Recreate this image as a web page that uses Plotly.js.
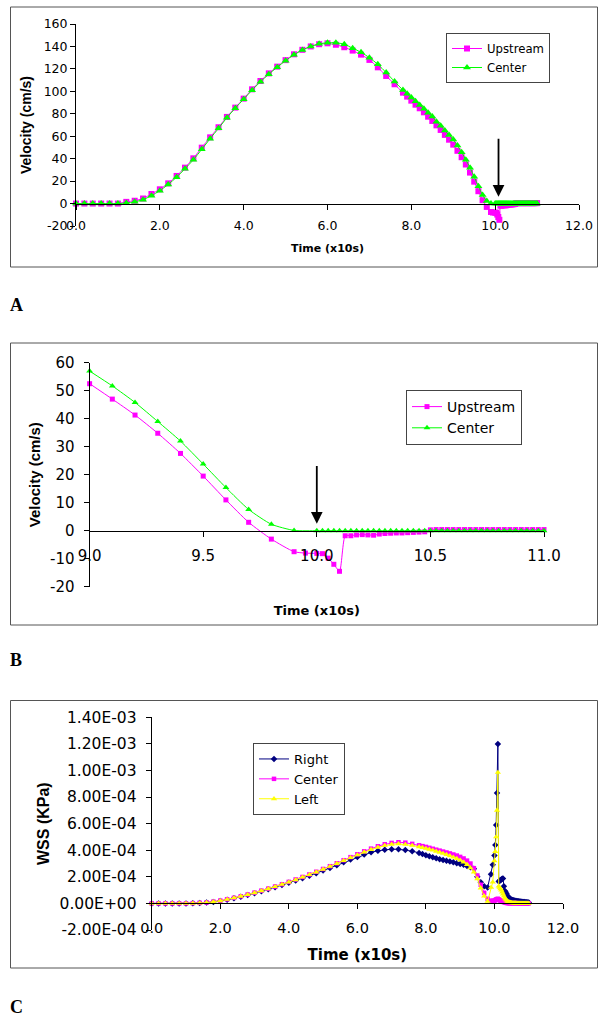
<!DOCTYPE html>
<html><head><meta charset="utf-8">
<script src="https://cdn.plot.ly/plotly-3.0.1.min.js"></script>
<style>html,body{margin:0;padding:0;background:#fff}#chart{width:605px;height:1020px}</style>
</head><body><div id="chart"></div>
<script>
// ---- data (time in x10 s) ----
const time = [
  0,0.2,0.4,0.6,0.8,1.0,1.2,1.4,1.6,1.8,
  2.0,2.2,2.4,2.6,2.8,3.0,3.2,3.4,3.6,3.8,
  4.0,4.2,4.4,4.6,4.8,5.0,5.2,5.4,5.6,5.8,
  6.0,6.2,6.4,6.6,6.8,7.0,7.2,7.4,7.6,7.8,
  7.9,8.0,8.1,8.2,8.3,8.4,8.5,8.6,8.7,8.8,
  8.9,9.0,9.1,9.2,9.3,9.4,9.5,9.6,9.7,9.8,
  9.9,9.95,
  10.0,10.025,10.05,10.075,10.1,10.125,10.15,10.175,10.2,10.225,
  10.25,10.275,10.3,10.325,10.35,10.375,10.4,10.425,10.45,10.475,
  10.5,10.525,10.55,10.575,10.6,10.625,10.65,10.675,10.7,10.725,
  10.75,10.775,10.8,10.825,10.85,10.875,10.9,10.925,10.95,10.975,
  11.0
];
// velocity (cm/s)
const velUpstream = [
  0,0,0,0,0,0,1.5,2.5,4.5,8.5,
  12.7,18,24.6,32,40.3,49.8,59,68,77.2,85.5,
  93.5,101.8,109.2,116,122,127.8,133,137,140,142,
  142.8,141.5,139.3,136.3,132.7,128,121.4,113.7,106.3,98.8,
  95.3,91.7,88.1,84.9,81.3,77.4,73.6,69.7,65.6,61.2,
  56.9,52.5,47,41.3,34.8,27.6,19.5,11,3,-3,
  -7.5,-8.0,
  -8.1,-8.2,-9.8,-12,-14.5,-1.8,-1.8,-1.5,-1.4,-1.5,
  -1.6,-1.2,-1.0,-0.9,-0.8,-0.8,-0.7,-0.6,-0.5,-0.4,
  0.3,0.4,0.4,0.4,0.4,0.4,0.4,0.4,0.4,0.4,
  0.4,0.4,0.4,0.4,0.4,0.4,0.4,0.4,0.4,0.4,
  0.4
];
const velCenter = [
  0,0,0,0,0,0,0.5,1.5,3.5,7,
  11.5,17,23.5,31,39,48.3,57.8,67,76.5,85,
  93,101,108.5,115.3,121.5,127.3,132.5,136.8,140,142.3,
  143.3,143.3,142,138.4,134.8,130,124.1,116.7,108.7,101.2,
  97.8,94.4,91.2,87.9,84.5,81,77.5,73,69.3,65,
  61,57,51.7,45.8,39,32,23.8,15.4,7.6,2.3,
  0.1,null,
  0,0,0,0,0,0,0,0,0,0,
  0,0,0,0,0,0,0,0,0,0,
  0,0,0,0,0,0,0,0,0,0,
  0,0,0,0,0,0,0,0,0,0,
  0
];
// wall shear stress (KPa)
const wssRight = [
  0,0,0,0,0,0,0.01e-4,0.03e-4,0.06e-4,0.11e-4,
  0.18e-4,0.27e-4,0.38e-4,0.5e-4,0.63e-4,0.77e-4,0.91e-4,1.06e-4,1.22e-4,1.38e-4,
  1.55e-4,1.72e-4,1.9e-4,2.08e-4,2.27e-4,2.47e-4,2.67e-4,2.88e-4,3.09e-4,3.3e-4,
  3.5e-4,3.68e-4,3.84e-4,3.96e-4,4.04e-4,4.08e-4,4.07e-4,4.02e-4,3.93e-4,3.8e-4,
  3.72e-4,3.62e-4,3.55e-4,3.48e-4,3.4e-4,3.33e-4,3.27e-4,3.21e-4,3.15e-4,3.09e-4,
  3.03e-4,2.97e-4,2.9e-4,2.82e-4,2.72e-4,2.6e-4,2.0e-4,1.6e-4,1.3e-4,1.2e-4,
  2.2e-4,2.9e-4,
  3.6e-4,4.4e-4,5.9e-4,8.3e-4,12.0e-4,1.65e-4,1.7e-4,1.75e-4,1.8e-4,1.85e-4,
  1.88e-4,1.3e-4,0.95e-4,0.85e-4,0.75e-4,0.6e-4,0.5e-4,0.42e-4,0.36e-4,0.32e-4,
  0.28e-4,0.25e-4,0.23e-4,0.21e-4,0.2e-4,0.19e-4,0.18e-4,0.17e-4,0.16e-4,0.15e-4,
  0.14e-4,0.13e-4,0.12e-4,0.11e-4,0.1e-4,0.1e-4,0.09e-4,0.08e-4,0.08e-4,0.07e-4,
  0.06e-4
];
const wssCenter = [
  0,0,0,0,0,0,0.02e-4,0.04e-4,0.07e-4,0.13e-4,
  0.21e-4,0.31e-4,0.42e-4,0.54e-4,0.67e-4,0.81e-4,0.96e-4,1.11e-4,1.27e-4,1.44e-4,
  1.62e-4,1.8e-4,1.99e-4,2.18e-4,2.38e-4,2.59e-4,2.8e-4,3.02e-4,3.25e-4,3.48e-4,
  3.7e-4,3.92e-4,4.12e-4,4.3e-4,4.45e-4,4.55e-4,4.6e-4,4.57e-4,4.48e-4,4.37e-4,
  4.31e-4,4.25e-4,4.18e-4,4.11e-4,4.04e-4,3.97e-4,3.9e-4,3.83e-4,3.76e-4,3.68e-4,
  3.6e-4,3.5e-4,3.38e-4,3.22e-4,3.0e-4,2.65e-4,2.1e-4,1.4e-4,0.8e-4,0.35e-4,
  0.2e-4,0.2e-4,
  0.2e-4,0.25e-4,0.3e-4,0.32e-4,0.35e-4,0.3e-4,0.25e-4,0.2e-4,0.2e-4,0.2e-4,
  0.15e-4,0.1e-4,0.08e-4,0.05e-4,0.04e-4,0.03e-4,0.03e-4,0.02e-4,0.02e-4,0.02e-4,
  0.02e-4,0.02e-4,0.02e-4,0.02e-4,0.02e-4,0.02e-4,0.02e-4,0.02e-4,0.01e-4,0.01e-4,
  0.01e-4,0.01e-4,0.01e-4,0.01e-4,0.01e-4,0.01e-4,0.01e-4,0.01e-4,0.01e-4,0.01e-4,
  0.01e-4
];
const wssLeft = [
  0,0,0,0,0,0,0.01e-4,0.03e-4,0.06e-4,0.12e-4,
  0.2e-4,0.3e-4,0.41e-4,0.53e-4,0.66e-4,0.8e-4,0.95e-4,1.1e-4,1.26e-4,1.43e-4,
  1.6e-4,1.78e-4,1.97e-4,2.16e-4,2.36e-4,2.57e-4,2.78e-4,3.0e-4,3.22e-4,3.44e-4,
  3.65e-4,3.86e-4,4.05e-4,4.22e-4,4.36e-4,4.45e-4,4.48e-4,4.44e-4,4.36e-4,4.26e-4,
  4.2e-4,4.14e-4,4.07e-4,4.0e-4,3.92e-4,3.84e-4,3.76e-4,3.67e-4,3.58e-4,3.48e-4,
  3.37e-4,3.25e-4,3.1e-4,2.92e-4,2.68e-4,2.35e-4,1.85e-4,1.15e-4,0.55e-4,0.15e-4,
  1.2e-4,1.6e-4,
  3.2e-4,3.9e-4,5.0e-4,7.0e-4,9.85e-4,1.3e-4,1.2e-4,1.1e-4,1.0e-4,0.85e-4,
  0.7e-4,0.55e-4,0.42e-4,0.32e-4,0.24e-4,0.18e-4,0.13e-4,0.1e-4,0.08e-4,0.06e-4,
  0.05e-4,0.04e-4,0.04e-4,0.03e-4,0.03e-4,0.03e-4,0.02e-4,0.02e-4,0.02e-4,0.02e-4,
  0.02e-4,0.01e-4,0.01e-4,0.01e-4,0.01e-4,0.01e-4,0.01e-4,0.01e-4,0.01e-4,0.01e-4,
  0.01e-4
];
const velNames = ['Upstream', 'Center'];
const wssNames = ['Right', 'Center', 'Left'];
const panelLabels = ['A', 'B', 'C'];
const velTickValsA = [-20, 0, 20, 40, 60, 80, 100, 120, 140, 160];
const velTickTextA = ['-20','0','20','40','60','80','100','120','140','160'];
const velTickValsB = [-20, -10, 0, 10, 20, 30, 40, 50, 60];
const velTickTextB = ['-20','-10','0','10','20','30','40','50','60'];
const wssTickVals = [-2e-4, 0, 2e-4, 4e-4, 6e-4, 8e-4, 1e-3, 1.2e-3, 1.4e-3];
const wssTickText = ['-2.00E-04','0.00E+00','2.00E-04','4.00E-04','6.00E-04','8.00E-04','1.00E-03','1.20E-03','1.40E-03'];

// ---- layout geometry (pixels -> paper) ----
const W = 605, H = 1020;
const px = v => v / W, py = v => 1 - v / H;
const rangeA = [-20, 160], rangeB = [-20, 60], rangeC = [-2e-4, 1.4e-3];
const domA = {x: [px(76), px(579)], y: [py(226), py(24)]};
const domB = {x: [px(89.6), px(544)], y: [py(586.7), py(362.7)]};
const domC = {x: [px(151.7), px(563)], y: [py(930), py(717.3)]};
const zeroPos = (dom, r) => dom[0] + (0 - r[0]) / (r[1] - r[0]) * (dom[1] - dom[0]);

// panel B shows the same series from t = 9
const idxB = time.map((t, i) => i).filter(i => time[i] >= 9);
const pick = (arr) => idxB.map(i => arr[i]);

const MAG = '#FF00FF', GRN = '#00FF00', NAVY = '#000080', YEL = '#FFFF00';
const TICKF = 'DejaVu Sans, Verdana, sans-serif';
const ARIAL = 'Liberation Sans, Arial, sans-serif';

function tr(x, y, name, color, symbol, size, xa, ya, leg, spline) {
  return {
    type: 'scatter', mode: 'lines+markers', x: x, y: y, name: name,
    xaxis: xa, yaxis: ya, legend: leg, connectgaps: true, cliponaxis: false,
    line: {color: color, width: 1, shape: spline ? 'spline' : 'linear', smoothing: 0.6},
    marker: {color: color, symbol: symbol, size: size, line: {width: 0}}
  };
}

const data = [
  tr(time, velUpstream, velNames[0], MAG, 'square', 6, 'x', 'y', 'legend', true),
  tr(time, velCenter, velNames[1], GRN, 'triangle-up', 7, 'x', 'y', 'legend', true),
  tr(pick(time), pick(velUpstream), velNames[0], MAG, 'square', 5, 'x2', 'y2', 'legend2', true),
  tr(pick(time), pick(velCenter), velNames[1], GRN, 'triangle-up', 6, 'x2', 'y2', 'legend2', true),
  tr(time, wssRight, wssNames[0], NAVY, 'diamond', 5, 'x3', 'y3', 'legend3', false),
  tr(time, wssCenter, wssNames[1], MAG, 'square', 4.5, 'x3', 'y3', 'legend3', false),
  tr(time, wssLeft, wssNames[2], YEL, 'triangle-up', 5.5, 'x3', 'y3', 'legend3', false)
];

const axBase = {showgrid: false, zeroline: false, showline: true, linecolor: '#000', linewidth: 1,
  ticks: 'outside', ticklen: 5, tickcolor: '#000', tickwidth: 1, fixedrange: true, automargin: false};

function xAx(dom, ydom, yr, range, dtick, fsize, standoff, tsize, tstand) {
  return Object.assign({}, axBase, {
    domain: dom, range: range, dtick: dtick, tick0: range[0], tickformat: '.1f',
    anchor: 'free', position: zeroPos(ydom, yr), ticklabelstandoff: standoff,
    tickfont: {family: TICKF, size: fsize, color: '#000'},
    title: {text: 'Time (x10s)', standoff: tstand, font: {family: TICKF, size: tsize, weight: 'bold', color: '#000'}}
  });
}
function yAx(dom, anchor, range, fsize, lstand, vals, texts, title, tsize, tstand) {
  return Object.assign({}, axBase, {
    domain: dom, range: range, anchor: anchor, tickmode: 'array', tickvals: vals, ticktext: texts,
    ticklabelstandoff: lstand,
    tickfont: {family: TICKF, size: fsize, color: '#000'},
    title: {text: title, standoff: tstand, font: {family: ARIAL, size: tsize, weight: 'bold', color: '#000'}}
  });
}

const legBase = {xanchor: 'left', yanchor: 'top', bgcolor: '#fff', bordercolor: '#444', borderwidth: 1,
  tracegroupgap: 0, itemwidth: 30};

const border = (y0, y1) => ({type: 'rect', xref: 'paper', yref: 'paper', x0: px(10.5), x1: px(597.5),
  y0: py(y1), y1: py(y0), line: {color: '#555', width: 1}, fillcolor: 'rgba(0,0,0,0)', layer: 'below'});

const label = (txt, y) => ({xref: 'paper', yref: 'paper', x: px(8), y: py(y), xanchor: 'left', yanchor: 'middle',
  showarrow: false, text: '<b>' + txt + '</b>', font: {family: 'Liberation Serif, Times New Roman, serif', size: 18, color: '#000'}});

const layout = {
  width: W, height: H, margin: {l: 0, r: 0, t: 0, b: 0, pad: 0},
  paper_bgcolor: '#fff', plot_bgcolor: 'rgba(0,0,0,0)', showlegend: true,
  xaxis: xAx(domA.x, domA.y, rangeA, [0, 12], 2, 12.5, 5, 11, 12),
  yaxis: yAx(domA.y, 'x', rangeA, 12.5, 0, velTickValsA, velTickTextA, 'Velocity (cm/s)', 14, 8),
  xaxis2: xAx(domB.x, domB.y, rangeB, [9, 11], 0.5, 15, 6, 13, 42),
  yaxis2: yAx(domB.y, 'x2', rangeB, 15, 6, velTickValsB, velTickTextB, 'Velocity (cm/s)', 15, 5),
  xaxis3: xAx(domC.x, domC.y, rangeC, [0, 12], 2, 14.5, 6, 15, 14),
  yaxis3: yAx(domC.y, 'x3', rangeC, 15.5, 6, wssTickVals, wssTickText, 'WSS (KPa)', 16, 5),
  legend: Object.assign({}, legBase, {x: px(446), y: py(33), font: {family: TICKF, size: 11.7, color: '#000'}}),
  legend2: Object.assign({}, legBase, {x: px(406), y: py(390), font: {family: TICKF, size: 14, color: '#000'}}),
  legend3: Object.assign({}, legBase, {x: px(253), y: py(743), font: {family: TICKF, size: 13, color: '#000'}}),
  shapes: [border(7, 267), border(343, 625), border(700.5, 968)],
  annotations: [
    {xref: 'x', yref: 'y', x: 10.08, y: 6, axref: 'x', ayref: 'y', ax: 10.08, ay: 59, text: '',
     showarrow: true, arrowhead: 2, arrowsize: 1.3, arrowwidth: 1.8, arrowcolor: '#000'},
    {xref: 'x2', yref: 'y2', x: 10.0, y: 2.5, axref: 'x2', ayref: 'y2', ax: 10.0, ay: 23.6, text: '',
     showarrow: true, arrowhead: 2, arrowsize: 1.3, arrowwidth: 1.8, arrowcolor: '#000'},
    label(panelLabels[0], 305), label(panelLabels[1], 660), label(panelLabels[2], 1007)
  ]
};

Plotly.newPlot('chart', data, layout, {staticPlot: true, displayModeBar: false});
</script>
</body></html>
